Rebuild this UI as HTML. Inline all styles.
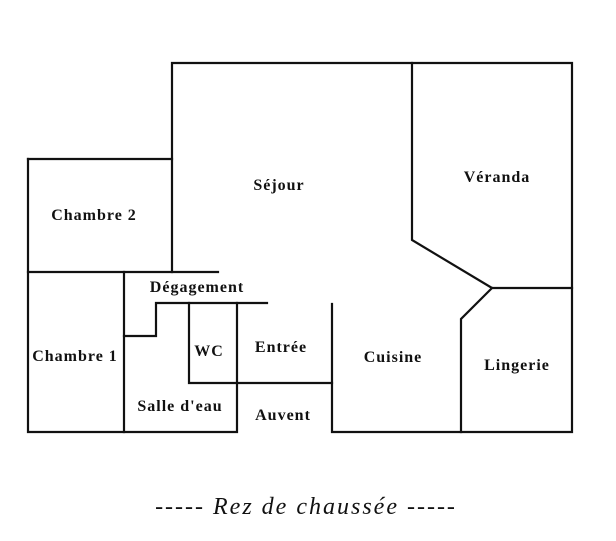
<!DOCTYPE html>
<html><head><meta charset="utf-8"><style>
html,body{margin:0;padding:0;background:#fff;width:616px;height:541px;overflow:hidden}
svg{display:block}
text{font-family:"Liberation Serif",serif;font-weight:bold;font-size:16px;letter-spacing:1px;fill:#111}
</style></head><body>
<svg width="616" height="541" viewBox="0 0 616 541">
<g stroke="#111" stroke-width="2.2" fill="none" stroke-linecap="square">
<polyline points="172,272 172,63 572,63 572,432 332,432 332,304"/>
<polyline points="412,63 412,240 492,288 572,288"/>
<polyline points="492,288 461,319 461,432"/>
<polyline points="28,159 172,159"/>
<polyline points="28,159 28,432 237,432 237,303"/>
<polyline points="28,272 218,272"/>
<polyline points="124,272 124,432"/>
<polyline points="124,336 156,336 156,303 267,303"/>
<polyline points="189,303 189,383 332,383"/>
</g>
<text x="279" y="190" text-anchor="middle">Séjour</text>
<text x="497" y="182" text-anchor="middle">Véranda</text>
<text x="94" y="220" text-anchor="middle">Chambre 2</text>
<text x="197" y="292" text-anchor="middle">Dégagement</text>
<text x="75" y="361" text-anchor="middle">Chambre 1</text>
<text x="209" y="356" text-anchor="middle">WC</text>
<text x="281" y="352" text-anchor="middle">Entrée</text>
<text x="393" y="362" text-anchor="middle">Cuisine</text>
<text x="517" y="370" text-anchor="middle">Lingerie</text>
<text x="180" y="411" text-anchor="middle">Salle d'eau</text>
<text x="283" y="420" text-anchor="middle">Auvent</text>
<text x="306" y="514" text-anchor="middle" style="font-weight:normal;font-style:italic;font-size:24px;letter-spacing:2px">----- Rez de chaussée -----</text>
</svg>
</body></html>
